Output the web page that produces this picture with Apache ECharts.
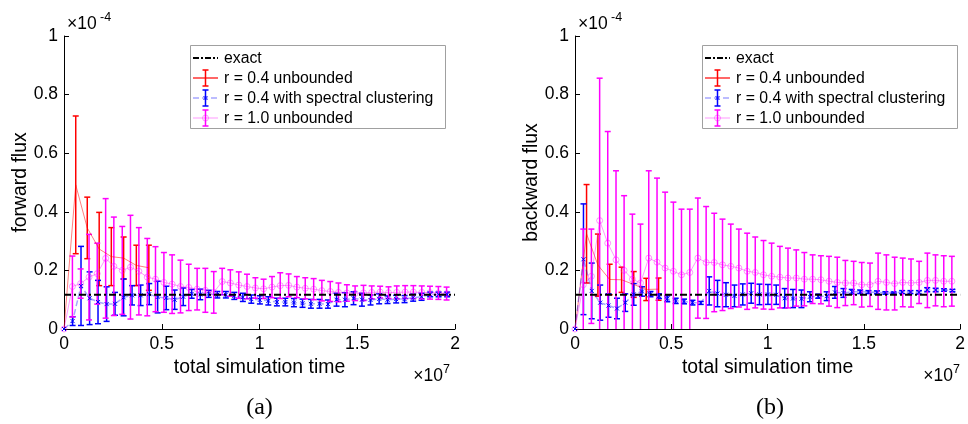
<!DOCTYPE html>
<html>
<head>
<meta charset="utf-8">
<script src="https://cdn.jsdelivr.net/npm/echarts@6.0.0/dist/echarts.min.js"></script>
<style>
  html, body { margin: 0; padding: 0; background: #fff; }
  #chart { width: 968px; height: 424px; }
</style>
</head>
<body>
<div id="chart"></div>
<script>
// x in units of 1e7, y in units of 1e-4 (matching the axis multipliers)
var tRed = [0, 0.060, 0.119, 0.180, 0.242, 0.305, 0.370, 0.434];
var tBlue = [0, 0.044, 0.087, 0.131, 0.174, 0.218, 0.261, 0.305, 0.348, 0.392, 0.436, 0.479,
    0.523, 0.566, 0.610, 0.653, 0.697, 0.740, 0.784, 0.828, 0.871, 0.915, 0.958, 1.002,
    1.045, 1.089, 1.132, 1.176, 1.220, 1.263, 1.307, 1.350, 1.394, 1.437, 1.481, 1.524,
    1.568, 1.612, 1.655, 1.699, 1.742, 1.786, 1.829, 1.873, 1.916, 1.960];
var tMag = [0, 0.043, 0.085, 0.128, 0.170, 0.213, 0.255, 0.298, 0.340, 0.383, 0.426, 0.468,
    0.511, 0.553, 0.596, 0.638, 0.681, 0.723, 0.766, 0.809, 0.851, 0.894, 0.936, 0.979,
    1.021, 1.064, 1.106, 1.149, 1.191, 1.234, 1.277, 1.319, 1.362, 1.404, 1.447, 1.489,
    1.532, 1.574, 1.617, 1.660, 1.702, 1.745, 1.787, 1.830, 1.872, 1.915, 1.957];
var exactFlux = 0.117;

var xTicks = [0, 0.5, 1, 1.5, 2];
var yTicks = [0, 0.2, 0.4, 0.6, 0.8, 1];

var legendNames = ['exact', 'r = 0.4 unbounded', 'r = 0.4 with spectral clustering', 'r = 1.0 unbounded'];

// (a) forward flux
var fwdRed = [0, 0.492, 0.345, 0.273, 0.247, 0.242, 0.217, 0.209];
var fwdRedErr = [0, 0.235, 0.105, 0.125, 0.099, 0.072, 0.069, 0.077];
var fwdBlue = [0, 0.027, 0.147, 0.105, 0.092, 0.085, 0.086, 0.108, 0.115, 0.115, 0.119, 0.109,
    0.106, 0.100, 0.110, 0.120, 0.118, 0.120, 0.117, 0.117, 0.113, 0.108, 0.102, 0.0995,
    0.096, 0.092, 0.092, 0.090, 0.088, 0.086, 0.086, 0.085, 0.100, 0.100, 0.105, 0.100,
    0.099, 0.103, 0.100, 0.102, 0.102, 0.107, 0.110, 0.118, 0.118, 0.118];
var fwdBlueErr = [0, 0.015, 0.135, 0.090, 0.074, 0.059, 0.039, 0.063, 0.033, 0.035, 0.036, 0.054,
    0.040, 0.033, 0.030, 0.015, 0.018, 0.012, 0.011, 0.011, 0.012, 0.014, 0.014, 0.014,
    0.014, 0.013, 0.013, 0.014, 0.014, 0.015, 0.015, 0.014, 0.022, 0.024, 0.022, 0.022,
    0.017, 0.017, 0.013, 0.013, 0.012, 0.012, 0.012, 0.008, 0.008, 0.008];
var fwdMag = [0, 0.145, 0.155, 0.177, 0.189, 0.241, 0.214, 0.200, 0.211, 0.197, 0.177, 0.170,
    0.159, 0.153, 0.145, 0.142, 0.136, 0.132, 0.125, 0.162, 0.157, 0.150, 0.145, 0.140,
    0.137, 0.143, 0.148, 0.149, 0.143, 0.139, 0.136, 0.131, 0.128, 0.125, 0.123, 0.122,
    0.123, 0.125, 0.126, 0.124, 0.125, 0.126, 0.126, 0.125, 0.124, 0.123, 0.121];
var fwdMagErr = [0, 0.104, 0.050, 0.146, 0.104, 0.204, 0.168, 0.150, 0.177, 0.149, 0.132, 0.111,
    0.102, 0.100, 0.090, 0.079, 0.071, 0.075, 0.071, 0.045, 0.045, 0.045, 0.042, 0.035,
    0.033, 0.036, 0.044, 0.039, 0.036, 0.036, 0.036, 0.035, 0.034, 0.032, 0.028, 0.025,
    0.026, 0.022, 0.020, 0.020, 0.022, 0.022, 0.022, 0.022, 0.022, 0.022, 0.022];

// (b) backward flux
var bwdRed = [0, 0.325, 0.218, 0.169, 0.168, 0.152, 0.135, 0.136];
var bwdRedErr = [0, 0.168, 0.106, 0.052, 0.043, 0.044, 0.038, 0.038];
var bwdBlue = [0, 0.238, 0.130, 0.090, 0.080, 0.070, 0.090, 0.118, 0.128, 0.119, 0.112, 0.103,
    0.096, 0.094, 0.090, 0.089, 0.130, 0.121, 0.117, 0.113, 0.118, 0.122, 0.118, 0.118,
    0.117, 0.105, 0.104, 0.103, 0.110, 0.112, 0.112, 0.125, 0.123, 0.127, 0.127, 0.126,
    0.125, 0.123, 0.123, 0.126, 0.126, 0.125, 0.134, 0.133, 0.133, 0.131];
var bwdBlueErr = [0, 0.189, 0.095, 0.060, 0.040, 0.035, 0.030, 0.037, 0.016, 0.009, 0.008, 0.010,
    0.009, 0.008, 0.008, 0.005, 0.048, 0.045, 0.041, 0.037, 0.036, 0.034, 0.035, 0.034,
    0.033, 0.033, 0.031, 0.030, 0.017, 0.007, 0.015, 0.020, 0.015, 0.008, 0.006, 0.005,
    0.005, 0.004, 0.003, 0.005, 0.005, 0.006, 0.007, 0.006, 0.004, 0.004];
var bwdMag = [0, 0.151, 0.180, 0.370, 0.293, 0.236, 0.200, 0.170, 0.157, 0.242, 0.228, 0.208,
    0.197, 0.185, 0.193, 0.242, 0.227, 0.227, 0.219, 0.214, 0.208, 0.197, 0.193, 0.185,
    0.180, 0.177, 0.174, 0.174, 0.170, 0.170, 0.168, 0.163, 0.159, 0.157, 0.157, 0.151,
    0.151, 0.163, 0.159, 0.155, 0.159, 0.157, 0.159, 0.166, 0.166, 0.163, 0.163];
var bwdMagErr = [0, 0.190, 0.161, 0.486, 0.381, 0.304, 0.255, 0.222, 0.201, 0.298, 0.287, 0.259,
    0.236, 0.224, 0.216, 0.205, 0.191, 0.168, 0.156, 0.144, 0.133, 0.130, 0.121, 0.117,
    0.113, 0.105, 0.102, 0.096, 0.091, 0.083, 0.082, 0.085, 0.086, 0.077, 0.074, 0.076,
    0.074, 0.096, 0.094, 0.090, 0.083, 0.082, 0.072, 0.093, 0.087, 0.087, 0.085];

var FONT = '"Liberation Sans", Arial, Helvetica, sans-serif';
var RED = '#ff0000', BLUE = '#0000ff', MAG = '#ff00ff';
var RED_LT = 'rgba(255,0,0,0.5)', BLUE_LT = 'rgba(0,0,255,0.35)', MAG_LT = 'rgba(255,0,255,0.4)';

function pts(t, m, e) {
    return t.map(function (x, i) { return e ? [x, m[i], e[i]] : [x, m[i]]; });
}

function errorBars(color) {
    return function (params, api) {
        var x = api.value(0), m = api.value(1), e = api.value(2);
        if (!e) return;
        var hi = Math.min(m + e, yTicks[yTicks.length - 1]);
        var lo = Math.max(m - e, yTicks[0]);
        var a = api.coord([x, hi]), b = api.coord([x, lo]);
        var w = 3, st = { stroke: color, lineWidth: 1.5 };
        var kids = [{ type: 'line', shape: { x1: a[0], y1: a[1], x2: b[0], y2: b[1] }, style: st }];
        if (m + e <= hi) kids.push({ type: 'line', shape: { x1: a[0] - w, y1: a[1], x2: a[0] + w, y2: a[1] }, style: st });
        if (m - e >= lo) kids.push({ type: 'line', shape: { x1: b[0] - w, y1: b[1], x2: b[0] + w, y2: b[1] }, style: st });
        return { type: 'group', children: kids };
    };
}

function panelSeries(k, red, redErr, blue, blueErr, mag, magErr) {
    var list = [
        {
            type: 'line', data: [[xTicks[0], exactFlux], [xTicks[xTicks.length - 1], exactFlux]],
            symbol: 'none', lineStyle: { color: '#000', width: 2, type: [7, 3, 2, 3] }, z: 3
        },
        {
            type: 'line', data: pts(tRed, red), symbol: 'none',
            lineStyle: { color: RED_LT, width: 1 }, z: 2
        },
        {
            type: 'custom', data: pts(tRed, red, redErr), renderItem: errorBars(RED),
            encode: { x: 0, y: 1 }, z: 2
        },
        {
            type: 'line', data: pts(tBlue, blue),
            symbol: 'path://M0,0L10,10M10,0L0,10', symbolSize: 4,
            itemStyle: { color: 'none', borderColor: BLUE, borderWidth: 1 },
            lineStyle: { color: BLUE_LT, width: 1.5, type: [6, 3] }, z: 2
        },
        {
            type: 'custom', data: pts(tBlue, blue, blueErr), renderItem: errorBars(BLUE),
            encode: { x: 0, y: 1 }, z: 2
        },
        {
            type: 'line', data: pts(tMag, mag),
            symbol: 'circle', symbolSize: 6,
            itemStyle: { color: 'rgba(255,255,255,0)', borderColor: MAG_LT, borderWidth: 1 },
            lineStyle: { color: MAG_LT, width: 1 }, z: 2
        },
        {
            type: 'custom', data: pts(tMag, mag, magErr), renderItem: errorBars(MAG),
            encode: { x: 0, y: 1 }, z: 2
        }
    ];
    list.forEach(function (s) {
        s.xAxisIndex = k; s.yAxisIndex = k;
        s.animation = false; s.silent = true;
    });
    return list;
}

function xAxis(k) {
    return {
        gridIndex: k, type: 'value', min: xTicks[0], max: xTicks[xTicks.length - 1], interval: 0.5,
        axisLine: { show: true, onZero: false, lineStyle: { color: '#000', width: 1 } },
        axisTick: { show: true, inside: true, length: 5, lineStyle: { color: '#000' } },
        axisLabel: { color: '#000', fontSize: 17.5, fontFamily: FONT, margin: 6 },
        splitLine: { show: false },
        name: 'total simulation time', nameLocation: 'middle', nameGap: 29,
        nameTextStyle: { color: '#000', fontSize: 19.4, fontFamily: FONT }
    };
}

function yAxis(k, name) {
    return {
        gridIndex: k, type: 'value', min: yTicks[0], max: yTicks[yTicks.length - 1], interval: 0.2,
        axisLine: { show: true, onZero: false, lineStyle: { color: '#000', width: 1 } },
        axisTick: { show: true, inside: true, length: 5, lineStyle: { color: '#000' } },
        axisLabel: { color: '#000', fontSize: 17.5, fontFamily: FONT, margin: 6 },
        splitLine: { show: false },
        name: name, nameLocation: 'middle', nameGap: 34,
        nameTextStyle: { color: '#000', fontSize: 19.4, fontFamily: FONT }
    };
}

function txt(x, y, s, size, align, vAlign, family) {
    return {
        type: 'text', z: 100,
        style: {
            x: x, y: y, text: s, fill: '#000',
            font: size + 'px ' + (family || FONT),
            align: align, verticalAlign: vAlign,
            textAlign: align, textVerticalAlign: vAlign
        }
    };
}

function seg(x1, y1, x2, y2, stroke, width, dash) {
    return {
        type: 'line', z: 101,
        shape: { x1: x1, y1: y1, x2: x2, y2: y2 },
        style: { stroke: stroke, lineWidth: width, lineDash: dash || null }
    };
}

function ibar(cx, cy, color) {
    return [
        seg(cx, cy - 8, cx, cy + 8, color, 1.5),
        seg(cx - 3, cy - 8, cx + 3, cy - 8, color, 1.5),
        seg(cx - 3, cy + 8, cx + 3, cy + 8, color, 1.5)
    ];
}

function legend(left, top) {
    var x1 = left + 3, x2 = left + 28, cx = left + 15.5, tx = left + 34;
    var ys = [top + 13, top + 33, top + 53, top + 73];
    var els = [{
        type: 'rect', z: 99,
        shape: { x: left + 0.5, y: top + 0.5, width: 255, height: 83 },
        style: { fill: '#fff', stroke: '#a0a0a0', lineWidth: 1 }
    }];
    els.push(seg(x1, ys[0], x2, ys[0], '#000', 2, [6, 2, 2, 2]));
    els.push(seg(x1, ys[1], x2, ys[1], RED, 1.2));
    els = els.concat(ibar(cx, ys[1], RED));
    els.push(seg(x1, ys[2], x2, ys[2], BLUE_LT, 1.5, [6, 3]));
    els = els.concat(ibar(cx, ys[2], BLUE));
    els.push(seg(cx - 2, ys[2] - 2, cx + 2, ys[2] + 2, BLUE, 1));
    els.push(seg(cx - 2, ys[2] + 2, cx + 2, ys[2] - 2, BLUE, 1));
    els.push(seg(x1, ys[3], x2, ys[3], MAG_LT, 1));
    els = els.concat(ibar(cx, ys[3], MAG));
    els.push({
        type: 'circle', z: 102, shape: { cx: cx, cy: ys[3], r: 3 },
        style: { fill: 'none', stroke: MAG_LT, lineWidth: 1 }
    });
    legendNames.forEach(function (n, i) {
        els.push(txt(tx, ys[i] + 0.5, n, 15.8, 'left', 'middle'));
    });
    return els;
}

function multipliers(left, right, caption) {
    return [
        txt(left + 3, 33, '\u00d710', 17.5, 'left', 'bottom'),
        txt(left + 36, 24, '-4', 12.5, 'left', 'bottom'),
        txt(right - 12, 385, '\u00d710', 17.5, 'right', 'bottom'),
        txt(right - 12, 376, '7', 12.5, 'left', 'bottom'),
        txt((left + right) / 2, 408, caption, 24, 'center', 'middle', '"Liberation Serif", "Times New Roman", serif')
    ];
}

var myChart = echarts.init(document.getElementById('chart'), null, { renderer: 'canvas' });

var option = {
    animation: false,
    backgroundColor: '#fff',
    grid: [
        { left: 64, top: 36, width: 391, height: 293 },
        { left: 575, top: 36, width: 390, height: 293 }
    ],
    xAxis: [xAxis(0), xAxis(1)],
    yAxis: [yAxis(0, 'forward flux'), yAxis(1, 'backward flux')],
    series: panelSeries(0, fwdRed, fwdRedErr, fwdBlue, fwdBlueErr, fwdMag, fwdMagErr)
        .concat(panelSeries(1, bwdRed, bwdRedErr, bwdBlue, bwdBlueErr, bwdMag, bwdMagErr)),
    graphic: legend(190, 45)
        .concat(legend(702, 45))
        .concat(multipliers(64, 455, '(a)'))
        .concat(multipliers(575, 965, '(b)'))
};

myChart.setOption(option);
</script>
</body>
</html>
